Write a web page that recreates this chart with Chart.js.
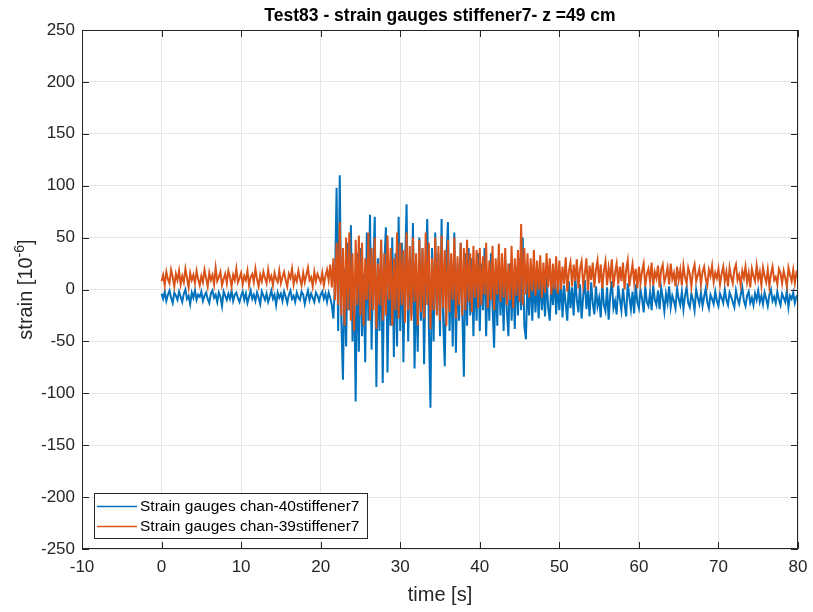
<!DOCTYPE html>
<html>
<head>
<meta charset="utf-8">
<script src="https://cdn.jsdelivr.net/npm/chart.js@4.4.1/dist/chart.umd.min.js"></script>
<style>
  html, body { margin: 0; padding: 0; background: #ffffff; }
  #chart { display: block; }
</style>
</head>
<body>
<canvas id="chart" width="813" height="612"></canvas>
<script>
// sample step of the recorded signals, seconds
const dt = 0.2;

const xTicks = [-10, 0, 10, 20, 30, 40, 50, 60, 70, 80];
const yTicks = [-250, -200, -150, -100, -50, 0, 50, 100, 150, 200, 250];

// chan-40 (blue), 0 .. 80 s
const chan40 = [
  -4,-9,-2,-11,-5,-1,-8,-13,-3,-6,-10,-2,-7,-12,-4,0,-9,-6,-14,-3,-8,-1,-10,-5,-7,
  -2,-11,-6,-3,-9,-13,-4,-1,-8,-5,-12,-3,-7,-16,-2,-6,-10,-4,-9,-1,-11,-5,-3,-8,-12,
  -6,-2,-10,-4,-13,-7,-1,-9,-5,-11,-3,-8,-14,-2,-6,-10,-4,-12,-7,-1,-9,-5,-15,-3,-8,
  -4,-11,-2,-7,-13,-5,-1,-9,-6,-12,-3,-8,-10,-2,-5,-14,-7,-1,-10,-4,-8,-12,-3,-6,-11,
  -5,-2,-9,-4,-12,-3,-8,-15,-28,5,98,-40,110,-30,-87,20,-55,45,-20,62,-50,10,-108,35,-60,
  40,-45,15,-70,55,-30,72,-58,20,70,-94,30,-40,48,-90,25,60,-80,10,-35,50,-65,35,-55,70,
  -40,45,-70,20,82,-50,30,-25,64,-76,15,-60,50,-30,40,-72,25,68,-35,-114,40,-50,55,-20,35,
  -45,68,-30,-74,30,65,-40,20,-55,55,-61,25,-30,45,-20,-84,35,-35,40,-25,30,-45,20,-30,35,
  -40,25,-20,40,-45,15,-30,35,-15,-56,20,-35,30,-25,10,-40,28,-20,-45,25,-30,15,-38,22,-25,
  30,-20,50,-35,-48,10,-25,18,-30,12,-22,8,-28,15,-20,5,-26,12,-18,-30,8,-15,14,-24,6,
  -20,10,-27,4,-14,-30,8,-18,2,-25,12,-10,-22,5,-28,-6,9,-19,-1,-26,7,-13,-24,3,-16,
  -8,-27,6,-15,-21,2,-29,-5,8,-18,-11,-24,4,-9,-20,1,-14,-26,6,-7,-19,-2,-23,5,-12,
  -18,0,-9,-22,3,-12,-16,-3,-20,4,-10,-15,-1,-19,2,-8,-21,-4,-13,3,-17,-6,-11,-18,1,
  -9,-15,-2,-19,-6,2,-13,-17,-4,-10,-20,0,-8,-14,-3,-16,-7,1,-12,-18,-5,-9,-14,-2,-11,
  -16,-4,-8,-13,0,-10,-15,-3,-7,-12,-17,-1,-9,-14,-5,2,-11,-16,-6,-2,-13,-8,-15,-4,-10,
  -1,-12,-6,-14,-3,-9,-16,-5,0,-11,-7,-13,-2,-10,-15,-4,-8,-12,-1,-17,-6,-9,-3,-13,-7,
  -5
];

// chan-39 (orange), 0 .. 80 s
const chan39 = [
  8,14,4,17,10,6,19,12,3,15,9,18,5,13,7,20,11,2,16,9,14,6,18,10,4,
  13,7,19,11,3,16,9,14,5,21,8,12,17,4,10,15,6,18,12,3,14,9,20,7,11,
  16,5,13,9,18,4,12,15,7,20,10,3,14,8,17,11,6,19,9,13,4,16,10,7,18,
  6,12,17,9,3,15,11,20,5,13,8,18,10,4,16,7,14,21,9,12,3,17,8,15,11,
  7,16,4,13,19,9,24,2,30,-10,45,-15,65,-25,40,-35,50,-20,55,-30,35,-40,48,-15,52,
  -25,45,-35,30,-10,55,-30,40,-20,50,-38,25,-15,48,-30,35,-25,52,-10,40,-35,30,-20,55,-28,
  45,-15,38,-32,55,-20,42,-30,50,-12,35,-35,48,-22,40,-28,55,-15,45,-38,30,-20,50,-25,42,
  -30,52,-18,38,-35,48,-22,35,-10,50,-28,32,-15,45,-25,40,-20,48,-12,35,-22,42,-8,38,-18,
  40,-15,32,-5,45,-18,28,-10,42,-20,30,-5,44,-12,35,-8,40,-15,25,-10,42,-18,30,-6,38,
  -12,63,-15,40,-5,35,-8,30,-2,38,-6,28,0,33,-8,26,-3,35,2,30,-5,25,0,32,-4,
  28,0,22,5,31,-2,18,26,3,24,8,29,1,20,27,4,15,30,-1,23,9,26,2,19,28,
  6,24,1,18,27,4,21,10,29,2,16,25,5,22,8,26,0,19,28,3,14,24,7,20,1,
  22,6,18,25,3,15,20,8,26,4,17,11,23,2,19,24,7,13,21,5,25,10,16,3,22,
  9,19,4,23,12,6,21,15,3,18,24,8,14,20,5,17,22,10,4,19,13,23,7,16,11,
  20,5,15,22,8,17,3,21,12,6,19,24,9,14,4,18,11,22,7,16,2,20,13,8,23,
  10,17,4,21,13,7,19,3,15,22,9,12,5,20,16,6,18,11,3,21,14,8,19,6,16,
  12
];

const times = chan40.map((v, i) => +(i * dt).toFixed(2));

const FONT = '"Liberation Sans", Arial, Helvetica, sans-serif';
const AXIS = '#262626';

// рамка, засечки внутрь, подписи осей и легенда, как в MATLAB
const framePlugin = {
  id: 'frame',
  afterDatasetsDraw(chart) {
    const { ctx, chartArea: a, scales } = chart;
    const tl = 7;
    ctx.save();
    ctx.strokeStyle = AXIS;
    ctx.lineWidth = 1;
    ctx.beginPath();
    ctx.rect(Math.round(a.left) + 0.5, Math.round(a.top) + 0.5,
             Math.round(a.right - a.left) - 1, Math.round(a.bottom - a.top) - 1);
    xTicks.forEach(v => {
      const px = Math.round(scales.x.getPixelForValue(v)) + 0.5;
      ctx.moveTo(px, a.bottom); ctx.lineTo(px, a.bottom - tl);
      ctx.moveTo(px, a.top); ctx.lineTo(px, a.top + tl);
    });
    yTicks.forEach(v => {
      const py = Math.round(scales.y.getPixelForValue(v)) + 0.5;
      ctx.moveTo(a.left, py); ctx.lineTo(a.left + tl, py);
      ctx.moveTo(a.right, py); ctx.lineTo(a.right - tl, py);
    });
    ctx.stroke();
    ctx.restore();
  },
  afterDraw(chart) {
    const { ctx, chartArea: a } = chart;
    ctx.save();

    // подпись оси X
    ctx.fillStyle = AXIS;
    ctx.font = '20px ' + FONT;
    ctx.textAlign = 'center';
    ctx.textBaseline = 'middle';
    ctx.fillText('time [s]', (a.left + a.right) / 2, 595);

    // подпись оси Y с верхним индексом
    ctx.translate(25, (a.top + a.bottom) / 2);
    ctx.rotate(-Math.PI / 2);
    ctx.textAlign = 'left';
    ctx.textBaseline = 'alphabetic';
    const main = 'strain [10', sup = '-6', tail = ']';
    ctx.font = '20px ' + FONT;
    const w1 = ctx.measureText(main).width, w3 = ctx.measureText(tail).width;
    ctx.font = '14px ' + FONT;
    const w2 = ctx.measureText(sup).width;
    let x0 = -(w1 + w2 + w3) / 2;
    ctx.font = '20px ' + FONT;
    ctx.fillText(main, x0, 7);
    ctx.font = '14px ' + FONT;
    ctx.fillText(sup, x0 + w1, -1);
    ctx.font = '20px ' + FONT;
    ctx.fillText(tail, x0 + w1 + w2, 7);
    ctx.setTransform(1, 0, 0, 1, 0, 0);

    // легенда в левом нижнем углу
    const bx = a.left + 12, by = a.bottom - 56, bw = 273, bh = 45;
    ctx.fillStyle = '#ffffff';
    ctx.fillRect(bx, by, bw, bh);
    ctx.strokeStyle = AXIS;
    ctx.lineWidth = 1;
    ctx.strokeRect(bx + 0.5, by + 0.5, bw, bh);
    ctx.font = '15.5px ' + FONT;
    ctx.textAlign = 'left';
    ctx.textBaseline = 'middle';
    chart.data.datasets.forEach((ds, i) => {
      const ly = by + 13 + i * 20;
      ctx.strokeStyle = ds.borderColor;
      ctx.lineWidth = 1.5;
      ctx.beginPath();
      ctx.moveTo(bx + 3, ly + 0.5);
      ctx.lineTo(bx + 43, ly + 0.5);
      ctx.stroke();
      ctx.fillStyle = '#000000';
      ctx.fillText(ds.label, bx + 46, ly + 1);
    });
    ctx.restore();
  }
};

new Chart(document.getElementById('chart'), {
  type: 'line',
  data: {
    labels: times,
    datasets: [
      {
        label: 'Strain gauges chan-40stiffener7',
        data: chan40,
        borderColor: '#0072BD',
        borderWidth: 2,
        pointRadius: 0,
        order: 1
      },
      {
        label: 'Strain gauges chan-39stiffener7',
        data: chan39,
        borderColor: '#D95319',
        borderWidth: 2,
        pointRadius: 0,
        order: 0
      }
    ]
  },
  options: {
    responsive: false,
    animation: false,
    layout: { padding: { left: 0, right: 15, top: 0, bottom: 0 } },
    plugins: {
      legend: { display: false },
      tooltip: { enabled: false },
      title: {
        display: true,
        text: 'Test83 - strain gauges stiffener7- z =49 cm',
        fullSize: false,
        color: '#000000',
        font: { family: FONT, size: 17.5, weight: 'bold', lineHeight: 1.2 },
        padding: { top: 6, bottom: 3 }
      }
    },
    scales: {
      x: {
        type: 'linear',
        min: -10,
        max: 80,
        afterBuildTicks(scale) { scale.ticks = xTicks.map(v => ({ value: v })); },
        afterFit(scale) {
          scale.height = 63;
          scale.paddingLeft = 0;
          scale.paddingRight = 0;
        },
        grid: { color: '#e6e6e6', drawTicks: false },
        border: { display: false },
        ticks: { color: AXIS, padding: 8, maxRotation: 0, font: { family: FONT, size: 17 } }
      },
      y: {
        min: -250,
        max: 250,
        afterBuildTicks(scale) { scale.ticks = yTicks.map(v => ({ value: v })); },
        afterFit(scale) { scale.width = 82; },
        grid: { color: '#e6e6e6', drawTicks: false },
        border: { display: false },
        ticks: { color: AXIS, padding: 7, font: { family: FONT, size: 17 } }
      }
    }
  },
  plugins: [framePlugin]
});
</script>
</body>
</html>
